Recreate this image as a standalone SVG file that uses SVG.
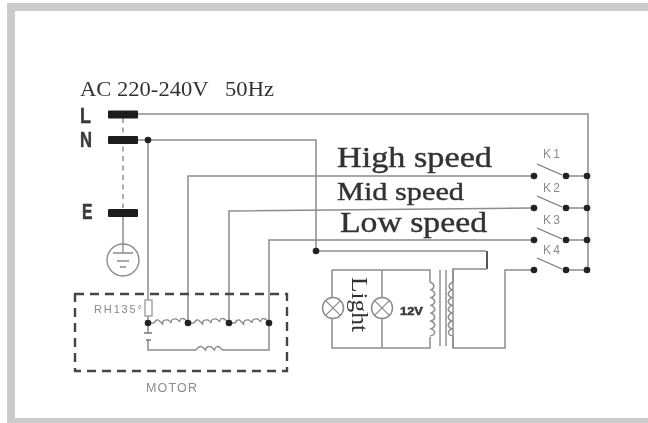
<svg xmlns="http://www.w3.org/2000/svg" width="648" height="423" viewBox="0 0 648 423">
<style>
.w{fill:none;stroke:#8c8c8c;stroke-width:1.5}
.c{fill:none;stroke:#8c8c8c;stroke-width:1.4}
.bar{fill:#1e1e1e}
.dot{fill:#222}
.s{font-family:"Liberation Serif",serif;fill:#333}
.h{stroke:#333;stroke-width:.4}
.a{font-family:"Liberation Sans",sans-serif;fill:#8a8a8a}
.b{font-family:"Liberation Sans",sans-serif;font-weight:bold;fill:#3a3a3a;stroke:#3a3a3a;stroke-width:.5}
.sw{fill:none;stroke:#777;stroke-width:1.3}
</style>
<defs>
<filter id="soft" filterUnits="userSpaceOnUse" x="0" y="0" width="648" height="423"><feGaussianBlur stdDeviation="0.7"/></filter>
<g id="lamp"><circle r="10.5" fill="#fff" stroke="#8c8c8c" stroke-width="1.5"/><path d="M-7.400-7.400 7.400 7.400M-7.400 7.400 7.400-7.400" stroke="#8c8c8c" stroke-width="1.3"/></g>
</defs>
<rect width="648" height="423" fill="#fff"/>
<path id="frame" fill="#cbcbcb" d="M7 3H648V11H15V418H648V423H7Z"/>
<g filter="url(#soft)">
<g id="connectors">
<path class="w" d="M137 114H588V270"/>
<path class="w" d="M137 140H316V251H486"/>
<path d="M487 251V269" fill="none" stroke="#555" stroke-width="2"/>
<path class="w" d="M487 269H453V348H505V270H534"/>
<path class="w" d="M148 140V300M148 316V333M148 340V350H196M222 350H269V240H534"/>
<path class="w" d="M188 323V176H534"/>
<path class="w" d="M229 323V211L534 208"/>
<path class="w" d="M566 176H588M566 208H588M566 240H588M566 270H588"/>
<path d="M123 118V208" fill="none" stroke="#888" stroke-width="1.4" stroke-dasharray="5 4.500"/>
<path class="w" d="M123 213V244"/>
<path class="w" d="M332 270H430V282M332 270V297M332 319V348H430V337M382 270V297M382 319V348"/>
<path class="w" d="M453 270V282M453 337V348"/>
</g>
<g id="terminal-L"><rect class="bar" x="108" y="110.500" width="30" height="8" rx="1"/><text class="b" x="80" y="123" font-size="22" textLength="11" lengthAdjust="spacingAndGlyphs">L</text></g>
<g id="terminal-N"><rect class="bar" x="108" y="136" width="30" height="8" rx="1"/><text class="b" x="80" y="147" font-size="22" textLength="12" lengthAdjust="spacingAndGlyphs">N</text><circle class="dot" cx="148" cy="140" r="3.300"/></g>
<g id="terminal-E"><rect class="bar" x="108" y="209" width="30" height="8" rx="1"/><text class="b" x="82" y="219" font-size="22" textLength="10.500" lengthAdjust="spacingAndGlyphs">E</text></g>
<g id="ground"><circle cx="123" cy="260" r="16" fill="none" stroke="#8c8c8c" stroke-width="1.4"/><path d="M123 244V253M113 253H133M117 261H129M120 267H126" fill="none" stroke="#8c8c8c" stroke-width="1.3"/></g>
<g id="title"><text class="s" x="80" y="96" font-size="21" textLength="194" lengthAdjust="spacingAndGlyphs" xml:space="preserve">AC 220-240V   50Hz</text></g>
<g id="speed-labels">
<text class="s h" x="337" y="167" font-size="30" textLength="155" lengthAdjust="spacingAndGlyphs">High speed</text>
<text class="s h" x="337" y="200" font-size="26" textLength="127" lengthAdjust="spacingAndGlyphs">Mid speed</text>
<text class="s h" x="340" y="232" font-size="30" textLength="147" lengthAdjust="spacingAndGlyphs">Low speed</text>
</g>
<g id="motor">
<rect x="75" y="294" width="212" height="77" fill="none" stroke="#444" stroke-width="2.400" stroke-dasharray="9 6"/>
<rect x="145" y="300" width="7" height="16" fill="#fff" stroke="#999" stroke-width="1.3"/>
<path class="c" d="M148 323H154q2.800-5 5.500-2 3 3 3 3 0-5 5.500-4 3 2 3 3 0-5 5.500-4 3 2 3 3 1-5 5-3 2 2 3 3M188 323H194q2.800-5 5.500-2 3 3 3 3 0-5 5.500-4 3 2 3 3 0-5 5.500-4 3 2 3 3 1-5 5-3 2 2 4 3M229 323H235q2.800-5 5.500-2 3 3 3 3 0-5 5.500-4 3 2 3 3 0-5 5.500-4 3 2 3 3 1-5 5-3 2 2 4 3"/>
<path class="c" d="M196 350q3-5 6.500-3 2 2 3 3 1-5 6-3 2 2 3 3 1-5 5-3 2 2 3 3"/>
<path d="M144 333H152M146 340H151" fill="none" stroke="#777" stroke-width="1.3"/>
<circle class="dot" cx="148" cy="323" r="3.300"/><circle class="dot" cx="188" cy="323" r="3.300"/><circle class="dot" cx="229" cy="323" r="3.300"/><circle class="dot" cx="269" cy="323" r="3.300"/>
<text class="a" x="94" y="313" font-size="11" textLength="48">RH135°</text>
<text class="a" x="146" y="392" font-size="12.500" textLength="51">MOTOR</text>
</g>
<g id="junction"><circle class="dot" cx="316" cy="251" r="3.300"/></g>
<g id="lamp-1"><use href="#lamp" x="333" y="308"/></g>
<g id="lamp-2"><use href="#lamp" x="382" y="308"/></g>
<g id="light-label"><text class="s" transform="translate(352 277) rotate(90)" font-size="24" textLength="55" lengthAdjust="spacingAndGlyphs">Light</text></g>
<g id="volt-label"><text class="b" x="400" y="314.500" font-size="10.500" textLength="23" lengthAdjust="spacingAndGlyphs">12V</text></g>
<g id="transformer">
<path class="c" d="M430 282c5 2 5 6 1 7.800c5 2 5 6 0 7.800c5 2 5 6 0 7.800c5 2 5 6 0 7.800c5 2 5 6 0 7.800c5 2 5 6 0 7.800c5 2 5 6 -1 7.200"/>
<path class="c" d="M453 282c-5 2-5 6-1 7.800c-5 2-5 6 0 7.800c-5 2-5 6 0 7.800c-5 2-5 6 0 7.800c-5 2-5 6 0 7.800c-5 2-5 6 0 7.800c-5 2-5 6 1 7.200"/>
<path class="c" d="M440 270V346M446 270V346"/>
</g>
<g id="switch-K1"><circle class="dot" cx="534" cy="176" r="3.300"/><circle class="dot" cx="566" cy="176" r="3.300"/><circle class="dot" cx="587" cy="176" r="3.300"/><path class="sw" d="M537 164 562 175"/><text class="a" x="543" y="158" font-size="12" textLength="17">K1</text></g>
<g id="switch-K2"><circle class="dot" cx="534" cy="208" r="3.300"/><circle class="dot" cx="566" cy="208" r="3.300"/><circle class="dot" cx="587" cy="208" r="3.300"/><path class="sw" d="M537 196 562 207"/><text class="a" x="543" y="192" font-size="12" textLength="17">K2</text></g>
<g id="switch-K3"><circle class="dot" cx="534" cy="240" r="3.300"/><circle class="dot" cx="566" cy="240" r="3.300"/><circle class="dot" cx="587" cy="240" r="3.300"/><path class="sw" d="M537 228 562 239"/><text class="a" x="543" y="224" font-size="12" textLength="17">K3</text></g>
<g id="switch-K4"><circle class="dot" cx="534" cy="270" r="3.300"/><circle class="dot" cx="566" cy="270" r="3.300"/><circle class="dot" cx="587" cy="270" r="3.300"/><path class="sw" d="M537 258 562 269"/><text class="a" x="543" y="254" font-size="12" textLength="17">K4</text></g>
</g>
</svg>
